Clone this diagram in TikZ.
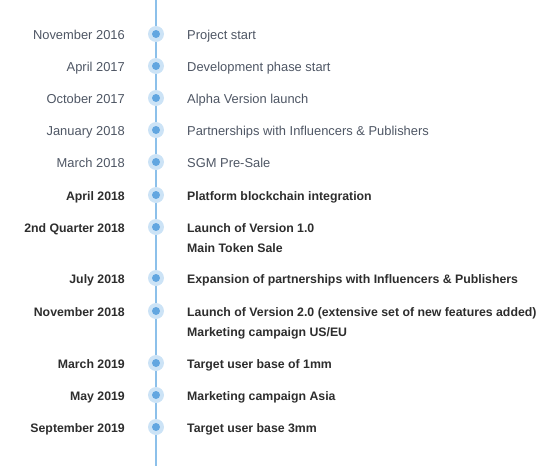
\documentclass[tikz,border=0pt]{standalone}
\usepackage{fontspec}
\setmainfont{Liberation Sans}
\definecolor{lineColor}{RGB}{140,192,234}
\definecolor{dotColor}{RGB}{98,166,224}
\definecolor{haloColor}{RGB}{204,227,246}
\definecolor{pastColor}{RGB}{78,86,100}
\definecolor{planColor}{RGB}{45,45,45}

\tikzset{
  halo/.style={circle,fill=haloColor,minimum size=16pt,inner sep=0pt},
  dot/.style={circle,fill=dotColor,minimum size=8pt,inner sep=0pt},
  date/.style={anchor=base east,inner sep=0pt,text=pastColor,font=\fontsize{12.9}{15}\selectfont},
  event/.style={anchor=base west,inner sep=0pt,text=pastColor,font=\fontsize{12.9}{15}\selectfont},
  datePlan/.style={date,text=planColor,font=\fontsize{12.3}{15}\selectfont\bfseries},
  eventPlan/.style={event,text=planColor,font=\fontsize{12.3}{15}\selectfont\bfseries}
}

\begin{document}
\begin{tikzpicture}[x=1pt,y=1pt]
  \useasboundingbox (0,0) rectangle (560,-466);
  % Time line
  \coordinate (top) at (156,0);
  \coordinate (bottom) at (156,-466);
  \draw[lineColor,line width=2pt] (top) -- (bottom);
  % Milestones
  \foreach \n/\y in {1/34,2/66,3/98,4/130,5/162,6/195,7/227,8/278,9/311,10/363,11/395,12/427}{
    \node[halo] (h\n) at (156,-\y) {};
    \node[dot] (d\n) at (h\n) {};
  }
  % Done
  \node[date] (t1) at (125,-39) {November 2016};
  \node[event] (e1) at (187,-39) {Project start};
  \node[date] (t2) at (125,-71) {April 2017};
  \node[event] (e2) at (187,-71) {Development phase start};
  \node[date] (t3) at (125,-103) {October 2017};
  \node[event] (e3) at (187,-103) {Alpha Version launch};
  \node[date] (t4) at (125,-135) {January 2018};
  \node[event] (e4) at (187,-135) {Partnerships with Influencers \& Publishers};
  \node[date] (t5) at (125,-167) {March 2018};
  \node[event] (e5) at (187,-167) {SGM Pre-Sale};
  % Planned
  \node[datePlan] (t6) at (125,-200) {April 2018};
  \node[eventPlan] (e6) at (187,-200) {Platform blockchain integration};
  \node[datePlan] (t7) at (125,-232) {2nd Quarter 2018};
  \node[eventPlan] (e7) at (187,-232) {Launch of Version 1.0};
  \node[eventPlan] (e7b) at (187,-252) {Main Token Sale};
  \node[datePlan] (t8) at (125,-283) {July 2018};
  \node[eventPlan] (e8) at (187,-283) {Expansion of partnerships with Influencers \& Publishers};
  \node[datePlan] (t9) at (125,-316) {November 2018};
  \node[eventPlan] (e9) at (187,-316) {Launch of Version 2.0 (extensive set of new features added)};
  \node[eventPlan] (e9b) at (187,-336) {Marketing campaign US/EU};
  \node[datePlan] (t10) at (125,-368) {March 2019};
  \node[eventPlan] (e10) at (187,-368) {Target user base of 1mm};
  \node[datePlan] (t11) at (125,-400) {May 2019};
  \node[eventPlan] (e11) at (187,-400) {Marketing campaign Asia};
  \node[datePlan] (t12) at (125,-432) {September 2019};
  \node[eventPlan] (e12) at (187,-432) {Target user base 3mm};
\end{tikzpicture}
\end{document}
